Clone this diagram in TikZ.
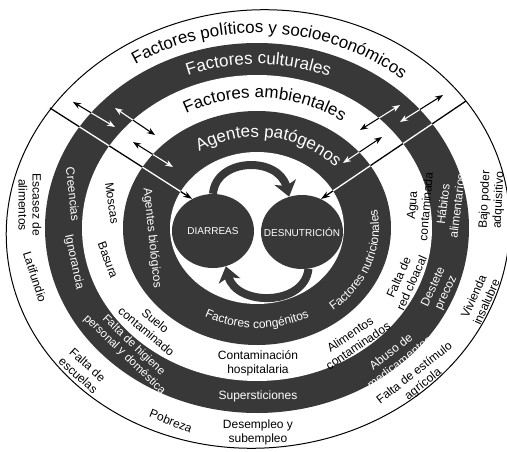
\documentclass[tikz,border=0pt]{standalone}
\usepackage{fontspec}
\setmainfont{Liberation Sans}
\usetikzlibrary{arrows.meta,decorations.text,shapes.geometric}

\pgfdeclarelayer{fondo}
\pgfsetlayers{fondo,main}

\newcommand\titlefont{\fontsize{17}{17}\selectfont}
\newcommand\labfont{\fontsize{12}{14}\selectfont}
\tikzset{
  lab/.style={font=\labfont, align=center, inner sep=0pt},
  wlab/.style={lab, text=white},
  blob/.style={ellipse, fill=band, text=white, minimum width=82pt, minimum height=74pt,
    inner sep=0pt, font=\fontsize{10}{10}\selectfont},
  link/.style={line width=1.1pt, {Stealth[length=8pt,width=6pt]}-{Stealth[length=8pt,width=6pt]}},
  feed/.style={line width=1.3pt, -{Stealth[length=9pt,width=6pt]}},
  cyclearrow/.style={band, line width=8pt, -{Stealth[length=15pt,width=22pt,inset=4pt]}},
  ringtitle/.style={decorate, decoration={text along path, text align=center, text={#1}}}
}
% flechas de una capa, en el color #1
\newcommand\linkset[1]{%
  \foreach \s in {l1,l2,l3,r1,r2,r3}
    \draw[link,#1] (\s-a) -- (\s-b);
  \draw[feed,#1] (fl) -- (dia.123);
  \draw[feed,#1] (fr) -- (des.60);
}

\begin{document}
\begin{tikzpicture}[x=1pt,y=1pt]
    %colores
    \colorlet{band}{black!78}
    \useasboundingbox (-257,-223) rectangle (250,228);

    % circulos centrales
    \node[blob] (dia) at (-44,-3) {\makebox[0pt]{DIARREAS}};
    \node[blob] (des) at (45,-4) {\makebox[0pt]{DESNUTRICIÓN}};

    % extremos de las flechas
    \coordinate (fl) at (-207,120);
    \coordinate (fr) at (209,127);
    \coordinate (l1-a) at (-184,126); \coordinate (l1-b) at (-142,101);
    \coordinate (l2-a) at (-142,120); \coordinate (l2-b) at (-102,93);
    \coordinate (l3-a) at (-124,86);  \coordinate (l3-b) at (-84,61);
    \coordinate (r1-a) at (143,106);  \coordinate (r1-b) at (186,133);
    \coordinate (r2-a) at (103,98);   \coordinate (r2-b) at (143,123);
    \coordinate (r3-a) at (86,65);    \coordinate (r3-b) at (125,91);

    % anillos y flechas (negras en blanco, blancas en oscuro)
    \begin{pgfonlayer}{fondo}
        \fill[white] (-257,-223) rectangle (250,228);
        \linkset{black}
        \foreach \rx/\ry/\col/\arr in {212/185/band/white, 175/153/white/black,
                                       134/117/band/white, 87/76/white/black}{
            \begin{scope}
                \clip (0,0) ellipse [x radius=\rx, y radius=\ry];
                \fill[\col] (-257,-223) rectangle (250,228);
                \linkset{\arr}
            \end{scope}
        }
    \end{pgfonlayer}
    \draw[line width=1pt, rotate around={5:(1,-1)}] (1,-1) ellipse [x radius=252, y radius=219];

    % ciclo diarrea - desnutricion
    \draw[cyclearrow] (dia.north) .. controls +(3,36) and +(-11,41) .. (des.110);
    \draw[cyclearrow] (des.-80) .. controls +(-4,-38) and +(10,-40) .. (dia.-70);

    % titulos de los anillos
    \path[ringtitle={|\titlefont|Factores políticos y socioeconómicos}]
        (156:224 and 195) arc[start angle=156, end angle=16, x radius=224, y radius=195];
    \path[ringtitle={|\titlefont\color{white}|Factores culturales}]
        (160:188 and 164) arc[start angle=160, end angle=19, x radius=188, y radius=164];
    \path[ringtitle={|\titlefont|Factores ambientales}]
        (157:149 and 130) arc[start angle=157, end angle=16, x radius=149, y radius=130];
    \path[ringtitle={|\titlefont\color{white}|Agentes patógenos}]
        (152:105 and 91) arc[start angle=152, end angle=12, x radius=105, y radius=91];
    \path[ringtitle={|\labfont\color{white}|Factores congénitos}]
        (200:114 and 100) arc[start angle=200, end angle=340, x radius=114, y radius=100];
    \path[ringtitle={|\labfont\color{white}|Factores nutricionales}]
        (-90:122 and 106) arc[start angle=-90, end angle=52, x radius=122, y radius=106];

    % anillo exterior
    \node[lab, rotate=-90] (escasez) at (-227,23) {Escasez de\\alimentos};
    \node[lab, rotate=-72] (latif) at (-222,-49) {Latifundio};
    \node[lab, rotate=-42] (escuelas) at (-174,-142) {Falta de\\escuelas};
    \node[lab, rotate=-22] (pobreza) at (-86,-193) {Pobreza};
    \node[lab] (desempleo) at (1,-204) {Desempleo y\\subempleo};
    \node[lab, rotate=38] (estimulo) at (162,-151) {Falta de estímulo\\agrícola};
    \node[lab, rotate=66] (vivienda) at (223,-71) {Vivienda\\insalubre};
    \node[lab, rotate=87] (poder) at (235,28) {Bajo poder\\adquisitivo};

    % factores culturales
    \node[wlab, rotate=-84] (creencias) at (-184,34) {Creencias};
    \node[wlab, rotate=-78] (ignor) at (-183,-34) {Ignorancia};
    \node[wlab, rotate=-44, font=\fontsize{11.5}{13}\selectfont] (higiene) at (-128,-122)
        {Falta de higiene\\personal y doméstica};
    \node[wlab] (superst) at (1,-168) {Supersticiones};
    \node[wlab, rotate=38] (abuso) at (138,-129) {Abuso de\\medicamentos};
    \node[wlab, rotate=65] (destete) at (183,-62) {Destete\\precoz};
    \node[wlab, rotate=83] (habitos) at (193,23) {Hábitos\\alimentarios};

    % factores ambientales
    \node[lab, rotate=-82] (moscas) at (-145,25) {Moscas};
    \node[lab, rotate=-70] (basura) at (-149,-32) {Basura};
    \node[lab, rotate=-40] (suelo) at (-106,-98) {Suelo\\contaminado};
    \node[lab] (hosp) at (1,-135) {Contaminación\\hospitalaria};
    \node[lab, rotate=34] (alim) at (97,-112) {Alimentos\\contaminados};
    \node[lab, rotate=66] (cloacal) at (148,-52) {Falta de\\red cloacal};
    \node[lab, rotate=85] (agua) at (162,22) {Agua\\contaminada};

    % agentes patogenos
    \node[wlab, rotate=-84] (biolog) at (-105,-10) {Agentes biológicos};
\end{tikzpicture}
\end{document}
